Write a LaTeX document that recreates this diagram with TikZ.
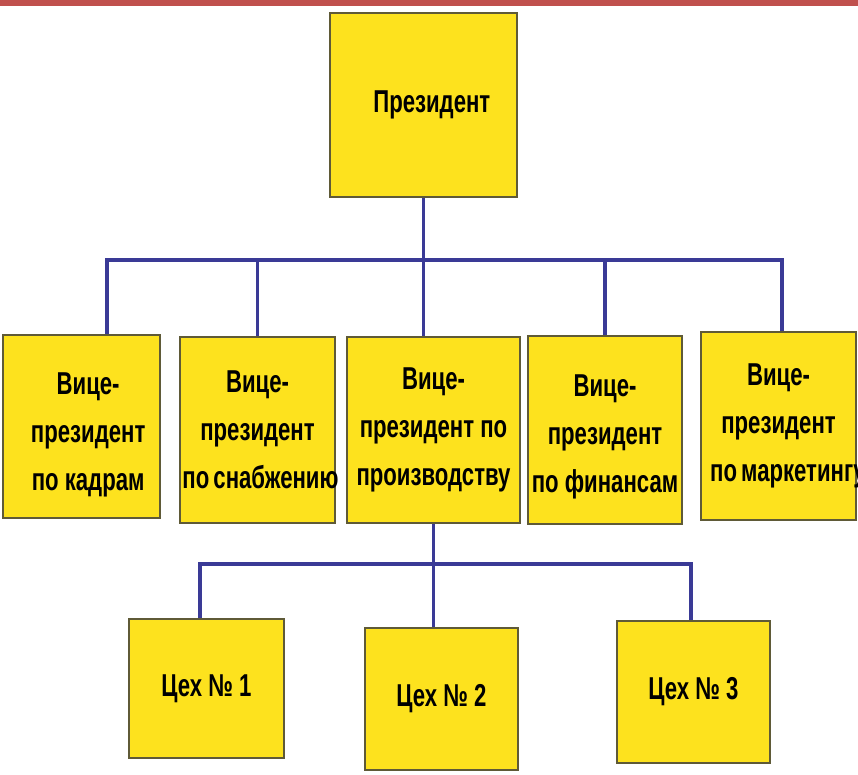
\documentclass[tikz,border=0pt]{standalone}
\usepackage{fontspec}
\newfontfamily\boxfont[FakeStretch=0.7]{Liberation Sans}
\definecolor{boxyellow}{RGB}{253,226,30}
\definecolor{boxedge}{RGB}{95,90,55}
\definecolor{lineblue}{RGB}{58,58,150}
\definecolor{barred}{RGB}{192,80,77}
\begin{document}
\begin{tikzpicture}[x=0.03cm,y=-0.03cm,
	box/.style={draw=boxedge,line width=1.5pt,fill=boxyellow,rectangle,inner sep=0pt,font=\boxfont\bfseries\fontsize{27}{41}\selectfont},
	link/.style={draw=lineblue,line width=2.8pt}]

	\useasboundingbox (0,0) rectangle (858,774);
	\fill[barred] (0,0) rectangle (858,6);

	\node[box, minimum height=5.52cm,minimum width=5.61cm] (Pres) at (423.5,105) {\hspace{0.5cm}Президент};

	% vice presidents
	\node[box, minimum height=5.49cm,minimum width=4.71cm] (VPkadry) at (81.5,426.5) {\parbox{4.2cm}{\centering\vspace*{0.5cm}\hspace*{0.4cm}Вице-\\\hspace*{0.4cm}президент\\\hspace*{0.4cm}по~кадрам}};
	\node[box, minimum height=5.58cm,minimum width=4.65cm] (VPsnab) at (257.5,430) {\parbox{4.5cm}{\centering Вице-\\президент\\по~снабжению}};
	\node[box, minimum height=5.58cm,minimum width=5.19cm] (VPproiz) at (433.5,430) {\parbox{4.9cm}{\centering Вице-\\президент по\\производству}};
	\node[box, minimum height=5.64cm,minimum width=4.62cm] (VPfin) at (605,430) {\parbox{4.4cm}{\centering\vspace*{0.4cm}Вице-\\президент\\по~финансам}};
	\node[box, minimum height=5.64cm,minimum width=4.65cm] (VPmark) at (778.5,426) {\parbox{4.1cm}{\centering Вице-\\президент\\по~маркетингу}};

	% workshops
	\node[box, minimum height=4.17cm,minimum width=4.65cm] (Cex1) at (206.5,688.5) {Цех № 1};
	\node[box, minimum height=4.26cm,minimum width=4.59cm] (Cex2) at (441.5,699) {Цех № 2};
	\node[box, minimum height=4.26cm,minimum width=4.59cm] (Cex3) at (693.5,692) {Цех № 3};

	\coordinate (busL) at (107,260);
	\coordinate (busR) at (782,260);
	\draw[link] (Pres.south) -- (Pres.south |- busL);
	\draw[link] (busL |- VPkadry.north) -- (busL) -- (busR) -- (busR |- VPmark.north);
	\draw[link] (VPsnab.north) -- (VPsnab.north |- busL);
	\draw[link] (Pres.south |- busL) -- (Pres.south |- VPproiz.north);
	\draw[link] (VPfin.north) -- (VPfin.north |- busL);

	\coordinate (busL2) at (200,564);
	\coordinate (busR2) at (691,564);
	\draw[link] (VPproiz.south) -- (VPproiz.south |- Cex2.north);
	\draw[link] (busL2 |- Cex1.north) -- (busL2) -- (busR2) -- (busR2 |- Cex3.north);

\end{tikzpicture}
\end{document}
